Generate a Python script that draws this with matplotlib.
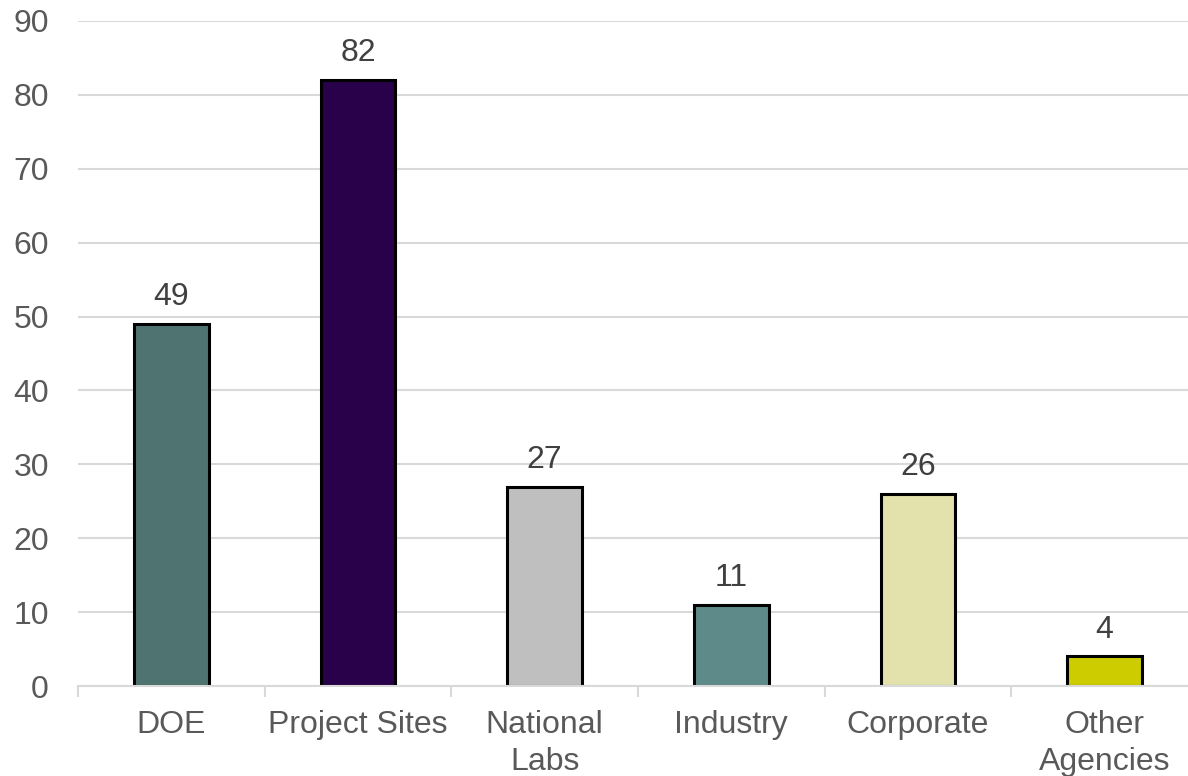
import matplotlib.pyplot as plt
import numpy as np

# data
categories = ["DOE", "Project Sites", "National\nLabs", "Industry", "Corporate", "Other\nAgencies"]
values = [49, 82, 27, 11, 26, 4]
colors = ["#4E7370", "#29004A", "#BFBFBF", "#5E8A8A", "#E3E2AC", "#CCCC00"]
yticks = [0, 10, 20, 30, 40, 50, 60, 70, 80, 90]

plt.rcParams['font.family'] = ['Liberation Sans', 'DejaVu Sans']

W, H = 1188, 776
fig = plt.figure(figsize=(W / 100, H / 100), dpi=100)
ax = fig.add_axes([78 / W, 90 / H, 1120 / W, 665 / H])

x = np.arange(len(categories))
bars = ax.bar(x, values, width=0.4, color=colors, edgecolor="black", linewidth=2.2, zorder=3)

# value labels above each bar
for xi, v in zip(x, values):
    ax.text(xi, v + 1.6, str(v), ha="center", va="bottom", fontsize=23, color="#404040")

ax.set_xlim(-0.5, len(categories) - 0.5)
ax.set_ylim(0, 90)
ax.set_yticks(yticks)
ax.yaxis.grid(True, color="#D9D9D9", linewidth=1.5, zorder=0)
ax.tick_params(axis="y", length=0, labelsize=23, labelcolor="#595959", pad=21)

# category labels in the middle, tick marks at the boundaries
ax.set_xticks(x)
ax.set_xticklabels(categories, linespacing=1.32)
ax.tick_params(axis="x", which="major", length=0, labelsize=23, labelcolor="#595959", pad=17)
ax.set_xticks(np.arange(-0.5, len(categories), 1.0), minor=True)
ax.tick_params(axis="x", which="minor", length=8, width=1.5, color="#D9D9D9", direction="out")

for s in ["top", "right", "left"]:
    ax.spines[s].set_visible(False)
ax.spines["bottom"].set_color("#D9D9D9")
ax.spines["bottom"].set_linewidth(1.5)
ax.spines["bottom"].set_zorder(4)

fig.savefig("out.png", dpi=100)
